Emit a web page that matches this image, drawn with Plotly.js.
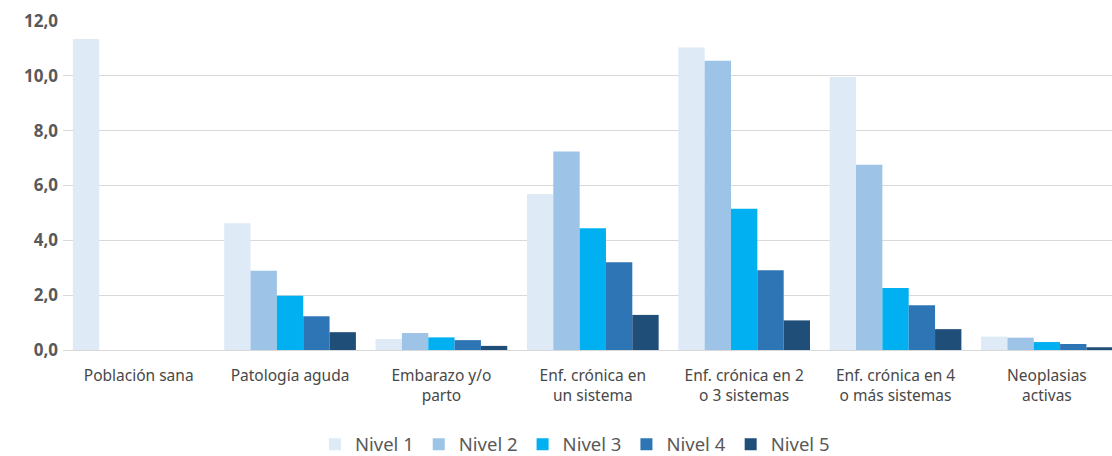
<!DOCTYPE html>
<html>
<head>
<meta charset="utf-8">
<script src="https://cdn.plot.ly/plotly-3.0.1.min.js"></script>
<style>html,body{margin:0;padding:0;background:#fff;}#chart{width:1112px;height:456px;}</style>
</head>
<body>
<div id="chart"></div>
<script>
const categories = [
  "Población sana",
  "Patología aguda",
  "Embarazo y/o<br>parto",
  "Enf. crónica en<br>un sistema",
  "Enf. crónica en 2<br>o 3 sistemas",
  "Enf. crónica en 4<br>o más sistemas",
  "Neoplasias<br>activas"
];
const seriesNames = ["Nivel 1", "Nivel 2", "Nivel 3", "Nivel 4", "Nivel 5"];
const nivel1 = [11.34, 4.62, 0.40, 5.69, 11.03, 9.96, 0.49];
const nivel2 = [0, 2.89, 0.62, 7.24, 10.55, 6.76, 0.45];
const nivel3 = [0, 1.98, 0.46, 4.44, 5.15, 2.26, 0.29];
const nivel4 = [0, 1.23, 0.36, 3.20, 2.91, 1.63, 0.22];
const nivel5 = [0, 0.65, 0.15, 1.28, 1.08, 0.76, 0.10];
const colors = ["#DEEAF6", "#9DC3E6", "#00B0F0", "#2E75B6", "#1F4E79"];

const allSeries = [nivel1, nivel2, nivel3, nivel4, nivel5];
const traces = allSeries.map((vals, i) => ({
  type: "bar",
  name: seriesNames[i],
  x: categories.map((c, j) => j),
  y: vals,
  marker: {color: colors[i], line: {width: 0}},
  hoverinfo: "y"
}));

const layout = {
  width: 1112, height: 456,
  margin: {l: 63, r: 0, t: 21, b: 106},
  paper_bgcolor: "#fff", plot_bgcolor: "#fff",
  separators: ",.",
  barmode: "group",
  bargap: 0.13,
  bargroupgap: 0,
  font: {family: "Noto Sans, sans-serif", color: "#595959"},
  xaxis: {
    tickmode: "array",
    tickvals: categories.map((c, j) => j),
    ticktext: categories,
    range: [-0.5, 6.43],
    showgrid: false,
    zeroline: false,
    showline: false,
    ticks: "",
    ticklabelstandoff: 14,
    tickfont: {size: 15.5, color: "#484848", family: "Noto Sans, sans-serif"},
    automargin: false
  },
  yaxis: {
    range: [0, 12],
    tickvals: [0, 2, 4, 6, 8, 10, 12],
    tickformat: ".1f",
    showgrid: true,
    gridcolor: "#D9D9D9",
    gridwidth: 1,
    zeroline: true,
    zerolinecolor: "#D9D9D9",
    zerolinewidth: 1,
    showline: false,
    ticks: "",
    ticklabelstandoff: 4,
    tickfont: {size: 17, color: "#595959", family: "Noto Sans, sans-serif", weight: "bold"},
    automargin: false
  },
  showlegend: true,
  legend: {
    orientation: "h",
    xref: "container", yref: "container",
    x: 0.517, xanchor: "center",
    y: 0.025, yanchor: "middle",
    font: {size: 18.5, color: "#595959", family: "Noto Sans, sans-serif"},
    itemwidth: 30,
    tracegroupgap: 0,
    traceorder: "normal"
  }
};

Plotly.newPlot("chart", traces, layout, {displayModeBar: false, staticPlot: true});
</script>
</body>
</html>
